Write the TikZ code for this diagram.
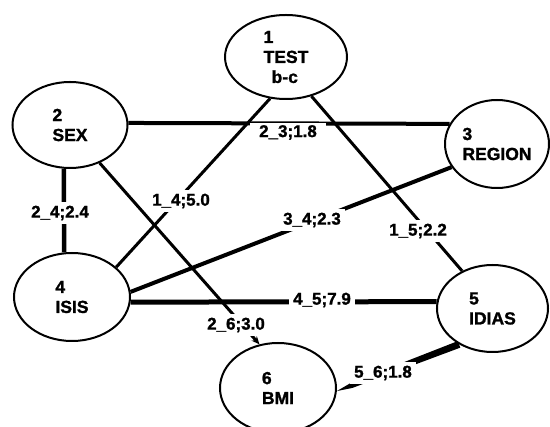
\documentclass[tikz,border=0pt]{standalone}
\usepackage{fontspec}
\setmainfont{Liberation Sans}[BoldFeatures={FakeBold=1.3}]
\usetikzlibrary{shapes.geometric,arrows.meta,calc}
\begin{document}
\begin{tikzpicture}[x=1pt,y=-1pt,
  var/.style={ellipse,draw,line width=2pt,inner sep=0pt,align=left,
    font=\fontsize{17.5}{20}\selectfont\bfseries},
  lbl/.style={fill=white,inner sep=4pt,font=\fontsize{17}{20}\selectfont\bfseries},
  conn/.style={line width=#1},
  conn/.default=3pt,
  tip/.style={-{Stealth[length=8pt,width=7pt]}}
]
\useasboundingbox[fill=white] (0,0) rectangle (550,427);
% variables
\node[var,minimum width=122pt,minimum height=84pt] (n1) at (286,57) {1\\TEST\\\hspace{8pt}b-c};
\node[var,minimum width=115pt,minimum height=86pt] (n2) at (70,125) {2\\SEX};
\node[var,minimum width=104pt,minimum height=88pt] (n3) at (497,144) {3\\REGION};
\node[var,minimum width=116pt,minimum height=88pt] (n4) at (72,297) {4\\ISIS};
\node[var,minimum width=111pt,minimum height=87pt] (n5) at (492.5,308.5) {5\\IDIAS};
\node[var,minimum width=116pt,minimum height=90pt] (n6) at (278,388) {6\\BMI};
% 2-3 with its label box under the line
\draw[conn=4pt] (n2.2) -- (n3.157);
\node[lbl,anchor=north,inner xsep=9pt,inner ysep=2.5pt] (l23) at (288,122.5) {2\_3;1.8};
% other connectors
\draw[conn] (n1.249.6) -- (n4.34);
\draw[conn] (n1.303) -- (n5.129.7);
\draw[conn=4.5pt] (n2.262) -- (n4.100.3);
\draw[conn=4pt] (n3.207.6) -- (n4.5);
\draw[conn=5pt] (n4.-5) -- (n5.173.3);
\draw[conn,tip] (n2.308) -- (n6.113.7);
\fill let \p1=(n5.227.5), \p2=(n6.-3.8), \n1={atan2(\y2-\y1,\x2-\x1)} in
  ($(\p1)+(\n1+90:3.5pt)$) -- ($(\p1)!0.88!(\p2)+(\n1+90:2.6pt)$) -- (\p2)
  -- ($(\p1)!0.88!(\p2)+(\n1-90:2.6pt)$) -- ($(\p1)+(\n1-90:3.5pt)$) -- cycle;
% labels
\node[lbl] (l14) at (181,201) {1\_4;5.0};
\node[lbl] (l15) at (418,231) {1\_5;2.2};
\node[lbl] (l24) at (60,213) {2\_4;2.4};
\node[lbl] (l26) at (236,325) {2\_6;3.0};
\node[lbl] (l34) at (312,220) {3\_4;2.3};
\node[lbl] (l45) at (322,300) {4\_5;7.9};
\node[lbl] (l56) at (383,373) {5\_6;1.8};
\end{tikzpicture}
\end{document}
